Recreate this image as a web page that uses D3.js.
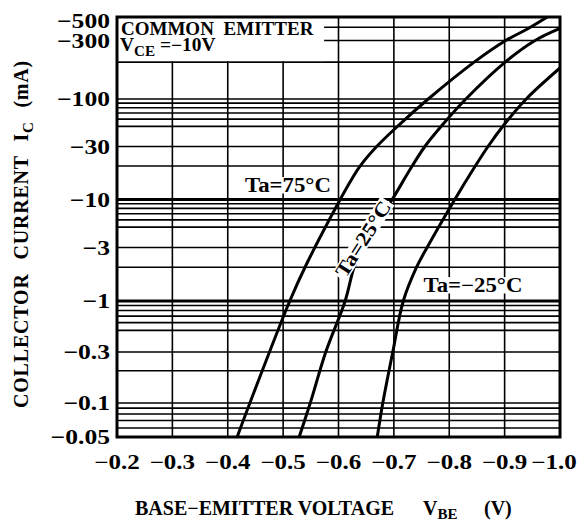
<!DOCTYPE html>
<html>
<head>
<meta charset="utf-8">
<script src="https://cdn.jsdelivr.net/npm/d3@7"></script>
<style>
  body { margin: 0; background: #fff; }
  text { font-family: "Liberation Serif", "DejaVu Serif", serif; font-weight: bold; fill: #000; }
</style>
</head>
<body>
<div id="chart"></div>
<script>
var svgWidth = 579;
var svgHeight = 523;

var margin = { top: 17, right: 19, bottom: 86, left: 117 };

// axis values (magnitudes; labels carry the minus sign)
var xTicks = [0.2, 0.3, 0.4, 0.5, 0.6, 0.7, 0.8, 0.9, 1.0];
var xTickLabels = ["−0.2", "−0.3", "−0.4", "−0.5", "−0.6", "−0.7", "−0.8", "−0.9", "−1.0"];
var yTicks = [500, 300, 100, 30, 10, 3, 1, 0.3, 0.1, 0.05];
var yTickLabels = ["−500", "−300", "−100", "−30", "−10", "−3", "−1", "−0.3", "−0.1", "−0.05"];
var yGrid = [400, 300, 200, 100, 90, 80, 70, 60, 50, 30, 20, 10, 9, 8, 7, 6, 5, 3, 2, 1,
             0.9, 0.8, 0.7, 0.6, 0.5, 0.3, 0.2, 0.1, 0.09, 0.08, 0.07, 0.06];
var yGridThick = [10, 1];

// curves: [VBE (V, magnitude), IC (mA, magnitude)]
var curve75 = [[0.417, 0.05], [0.440, 0.1], [0.512, 1], [0.543, 2.17], [0.603, 10], [0.623, 15],
               [0.639, 20], [0.669, 30], [0.711, 53], [0.762, 100], [0.845, 200], [0.902, 300],
               [0.941, 385], [0.977, 500]];
var curve25 = [[0.529, 0.05], [0.549, 0.1], [0.577, 0.3], [0.612, 1], [0.628, 2], [0.643, 3], [0.697, 10],
               [0.733, 20], [0.756, 30], [0.789, 53], [0.830, 100], [0.901, 200], [0.955, 300], [1.0, 390]];
var curveM25 = [[0.670, 0.05], [0.680, 0.1], [0.698, 0.3], [0.717, 1], [0.741, 2], [0.760, 3], [0.810, 10],
                [0.847, 20], [0.870, 30], [0.900, 53], [0.939, 100], [1.0, 179]];

var chartWidth = svgWidth - margin.left - margin.right;
var chartHeight = svgHeight - margin.top - margin.bottom;

var svg = d3.select("#chart")
  .append("svg")
  .attr("width", svgWidth)
  .attr("height", svgHeight);

var xScale = d3.scaleLinear()
  .domain([0.2, 1.0])
  .range([margin.left, margin.left + chartWidth]);

// the printed grid is not a perfect log grid, so calibrate on each labelled value
var yScale = d3.scaleLog()
  .domain(yTicks)
  .range([17, 40.5, 99, 146.5, 199.5, 247.5, 301, 352, 403, 437]);

var grid = svg.append("g");

grid.selectAll(".vgrid")
  .data(xTicks.slice(1, -1))
  .enter()
  .append("line")
  .attr("x1", d => xScale(d))
  .attr("x2", d => xScale(d))
  .attr("y1", yScale(500))
  .attr("y2", yScale(0.05))
  .attr("stroke", "#000")
  .attr("stroke-width", 1.6);

grid.selectAll(".hgrid")
  .data(yGrid)
  .enter()
  .append("line")
  .attr("x1", xScale(0.2))
  .attr("x2", xScale(1.0))
  .attr("y1", d => yScale(d))
  .attr("y2", d => yScale(d))
  .attr("stroke", "#000")
  .attr("stroke-width", d => yGridThick.indexOf(d) >= 0 ? 2.8 : 1.6);

// legend box knocks out the grid in the top left corner
svg.append("rect")
  .attr("x", xScale(0.2))
  .attr("y", yScale(500))
  .attr("width", xScale(0.574) - xScale(0.2))
  .attr("height", yScale(200) - yScale(500) - 1)
  .attr("fill", "#fff");

var line = d3.line()
  .x(d => xScale(d[0]))
  .y(d => yScale(d[1]))
  .curve(d3.curveCatmullRom.alpha(0.5));

svg.append("clipPath").attr("id", "clip")
  .append("rect")
  .attr("x", margin.left).attr("y", margin.top)
  .attr("width", chartWidth).attr("height", chartHeight);

var curves = svg.append("g").attr("clip-path", "url(#clip)");
[curve75, curve25, curveM25].forEach(function (c) {
  curves.append("path")
    .datum(c)
    .attr("d", line)
    .attr("fill", "none")
    .attr("stroke", "#000")
    .attr("stroke-width", 3);
});

// border
svg.append("rect")
  .attr("x", margin.left)
  .attr("y", margin.top)
  .attr("width", chartWidth)
  .attr("height", chartHeight)
  .attr("fill", "none")
  .attr("stroke", "#000")
  .attr("stroke-width", 3);

// curve labels with white knock-out
function label(txt, x, y, rot) {
  var g = svg.append("g").attr("transform", `translate(${x},${y}) rotate(${rot || 0}) scale(1.14,1)`);
  var bg = g.append("rect").attr("fill", "#fff");
  var t = g.append("text")
    .attr("text-anchor", "middle")
    .attr("dy", "0.34em")
    .style("font-size", "20px")
    .text(txt);
  var b = t.node().getBBox();
  bg.attr("x", b.x - 2).attr("y", b.y + 3).attr("width", b.width + 4).attr("height", b.height - 6);
}
label("Ta=75°C", 288, 185);
label("Ta=25°C", 363, 239, -57.5);
label("Ta=−25°C", 473, 285);

// legend text
svg.append("text")
  .attr("x", 121).attr("y", 35)
  .style("font-size", "19px")
  .style("word-spacing", "5px")
  .text("COMMON EMITTER");

var vce = svg.append("text")
  .attr("transform", "translate(120,51) scale(1.08,1)")
  .style("font-size", "18px");
vce.append("tspan").text("V");
vce.append("tspan").attr("dy", 5).style("font-size", "14px").text("CE");
vce.append("tspan").attr("dy", -5).text(" =−10V");

// y tick labels
svg.selectAll(".ylab")
  .data(yTicks)
  .enter()
  .append("text")
  .attr("transform", d => `translate(110,${yScale(d)}) scale(1.22,1)`)
  .attr("dy", (d, i) => i === 0 ? "0.5em" : "0.34em")
  .attr("text-anchor", "end")
  .style("font-size", "21px")
  .text((d, i) => yTickLabels[i]);

// x tick labels
svg.selectAll(".xlab")
  .data(xTicks)
  .enter()
  .append("text")
  .attr("transform", (d, i) => `translate(${xScale(d) - (i === xTicks.length - 1 ? 6 : 0)},469) scale(1.25,1)`)
  .attr("text-anchor", "middle")
  .style("font-size", "20px")
  .text((d, i) => xTickLabels[i]);

// x title
var xt = svg.append("text")
  .attr("x", 135).attr("y", 515)
  .style("font-size", "20px");
xt.append("tspan").text("BASE−EMITTER VOLTAGE");
xt.append("tspan").attr("x", 423).text("V");
xt.append("tspan").attr("dy", 4).style("font-size", "15px").text("BE");
xt.append("tspan").attr("dy", -4).attr("x", 484).text("(V)");

// y title
var yt = svg.append("text")
  .attr("transform", "translate(28,408) rotate(-90)")
  .style("font-size", "20px")
  .style("letter-spacing", "0.8px")
  .style("word-spacing", "8px");
yt.append("tspan").text("COLLECTOR CURRENT I");
yt.append("tspan").attr("dy", 5).style("font-size", "15px").text("C");
yt.append("tspan").attr("dy", -5).text(" (mA)");
</script>
</body>
</html>
